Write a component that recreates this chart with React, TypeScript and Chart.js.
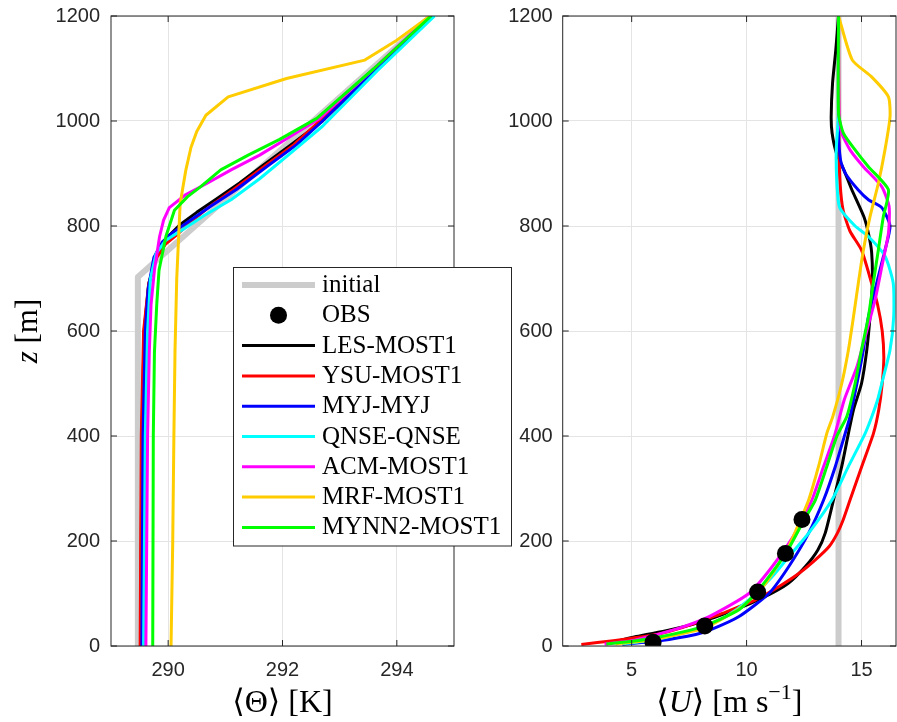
import React, { useEffect, useRef } from "react";
import { Chart, registerables } from "chart.js";
Chart.register(...registerables);

// ---------- data ----------
const Z_TICKS = [0, 200, 400, 600, 800, 1000, 1200];
const THETA_TICKS = [290, 292, 294];
const U_TICKS = [5, 10, 15];

const MODEL_NAMES = ["LES-MOST1", "YSU-MOST1", "MYJ-MYJ", "QNSE-QNSE", "ACM-MOST1", "MRF-MOST1", "MYNN2-MOST1"];

// potential temperature [K] vs height [m]: [theta, z]
const THETA_INITIAL = [[289.47, 0], [289.47, 703], [294.6, 1200]];
const THETA_LES = [[289.52, 0], [289.54, 400], [289.58, 600], [289.66, 690], [289.8, 745], [290.0, 780], [290.2, 802], [290.5, 826], [290.85, 852], [291.25, 882], [291.65, 915], [292.15, 955], [292.7, 1000], [293.65, 1100], [294.6, 1200]];
const THETA_YSU = [[289.51, 0], [289.53, 400], [289.57, 600], [289.66, 690], [289.8, 740], [289.95, 765], [290.14, 782], [290.4, 808], [290.7, 835], [291.15, 870], [291.7, 915], [292.2, 955], [292.65, 1000], [293.65, 1100], [294.62, 1200]];
const THETA_MYJ = [[289.54, 0], [289.56, 400], [289.6, 600], [289.65, 680], [289.75, 740], [289.9, 770], [290.05, 785], [290.35, 808], [290.75, 838], [291.2, 870], [291.75, 915], [292.25, 955], [292.7, 1000], [293.65, 1100], [294.63, 1200]];
const THETA_QNSE = [[289.57, 0], [289.6, 400], [289.64, 600], [289.69, 700], [289.79, 748], [289.96, 773], [290.28, 795], [290.63, 820], [291.1, 850], [291.6, 890], [292.1, 935], [292.7, 990], [293.65, 1095], [294.66, 1200]];
const THETA_ACM = [[289.61, 0], [289.64, 400], [289.67, 560], [289.7, 650], [289.76, 716], [289.85, 780], [289.92, 811], [290.02, 835], [290.31, 860], [290.69, 882], [291.1, 907], [291.6, 935], [292.1, 968], [292.65, 1005], [293.6, 1100], [294.58, 1200]];
const THETA_MRF = [[290.05, 0], [290.08, 200], [290.1, 400], [290.12, 564], [290.15, 700], [290.21, 843], [290.31, 907], [290.4, 950], [290.5, 980], [290.66, 1011], [291.05, 1046], [292.07, 1081], [293.44, 1116], [294.0, 1154], [294.58, 1200]];
const THETA_MYNN2 = [[289.73, 0], [289.74, 400], [289.76, 560], [289.8, 650], [289.84, 716], [289.96, 780], [290.11, 830], [290.34, 856], [290.57, 875], [290.92, 907], [291.4, 935], [291.95, 965], [292.6, 1005], [293.6, 1100], [294.6, 1200]];

// wind speed [m/s] vs height [m]: [U, z]
const U_INITIAL = [[14, 0], [14, 1200]];
const U_OBS = [5.93, 8.18, 10.48, 11.69, 12.41];
const Z_OBS = [7, 38, 103, 176, 241];
const U_LES = [[3.9, 4], [5.2, 18], [6.6, 30], [7.8, 43], [9.5, 69], [10.8, 94], [11.8, 119], [12.55, 151], [13.1, 183], [13.42, 215], [13.78, 278], [14.14, 342], [14.43, 405], [14.65, 450], [15.0, 500], [15.23, 564], [15.37, 627], [15.47, 691], [15.44, 750], [15.3, 786], [15.1, 818], [14.57, 870], [14.25, 905], [13.9, 940], [13.72, 977], [13.68, 1008], [13.74, 1072], [13.88, 1135], [14.0, 1200]];
const U_YSU = [[2.81, 3], [4.2, 10], [5.19, 16], [6.2, 23], [7.2, 35], [7.93, 46], [8.94, 62], [9.67, 75], [10.39, 88], [11.4, 113], [12.27, 138], [12.99, 164], [13.6, 190], [13.95, 215], [14.2, 240], [14.5, 278], [15.01, 342], [15.52, 405], [15.75, 450], [15.9, 500], [15.97, 550], [15.9, 600], [15.7, 650], [15.44, 691], [15.0, 754], [14.5, 790], [14.2, 830], [14.07, 880], [14.02, 950], [14.0, 1200]];
const U_MYJ = [[4.6, 3], [6.2, 10], [7.79, 22], [8.5, 32], [9.67, 56], [10.97, 100], [11.83, 151], [12.7, 215], [13.35, 278], [13.86, 342], [14.29, 405], [14.5, 437], [14.8, 500], [15.08, 564], [15.3, 627], [15.66, 691], [16.02, 754], [16.24, 800], [15.88, 835], [15.3, 850], [14.85, 869], [14.3, 900], [14.09, 925], [14.0, 980], [14.0, 1200]];
const U_QNSE = [[4.6, 4], [6.0, 12], [7.2, 24], [8.2, 38], [9.09, 56], [10.1, 88], [11.11, 132], [11.83, 170], [12.7, 215], [13.71, 278], [14.43, 342], [15.16, 405], [15.45, 437], [15.7, 469], [15.88, 500], [16.24, 564], [16.4, 627], [16.38, 691], [16.03, 742], [15.3, 780], [14.72, 800], [14.05, 835], [13.93, 880], [13.9, 945], [13.99, 1008], [14.0, 1200]];
const U_ACM = [[3.82, 4], [5.0, 10], [5.77, 18], [7.0, 33], [8.37, 56], [10.1, 100], [11.11, 151], [12.12, 215], [12.84, 278], [13.35, 342], [13.82, 400], [14.25, 469], [14.8, 532], [15.2, 596], [15.59, 659], [15.88, 722], [16.17, 786], [16.2, 837], [15.88, 875], [15.08, 913], [14.5, 945], [14.14, 977], [14.02, 1015], [14.0, 1200]];
const U_MRF = [[4.3, 4], [5.77, 11], [7.0, 22], [8.22, 35], [9.81, 75], [10.82, 119], [11.76, 183], [12.4, 246], [12.7, 278], [13.13, 342], [13.49, 405], [13.75, 437], [14.14, 500], [14.43, 564], [14.65, 627], [14.86, 691], [15.08, 754], [15.37, 818], [15.73, 881], [16.02, 945], [16.24, 1008], [16.17, 1046], [15.44, 1084], [14.6, 1116], [14.0, 1200]];
const U_MYNN2 = [[3.9, 4], [5.05, 9], [6.2, 17], [8.08, 37], [9.67, 69], [10.53, 107], [11.7, 176], [12.5, 240], [12.99, 278], [13.49, 342], [13.93, 400], [14.36, 437], [14.72, 500], [15.0, 564], [15.3, 627], [15.51, 691], [15.73, 754], [15.95, 818], [16.17, 869], [15.3, 913], [14.72, 945], [14.21, 977], [14.0, 1015], [14.0, 1200]];

const THETA_SERIES = [THETA_LES, THETA_YSU, THETA_MYJ, THETA_QNSE, THETA_ACM, THETA_MRF, THETA_MYNN2];
const U_SERIES = [U_LES, U_YSU, U_MYJ, U_QNSE, U_ACM, U_MRF, U_MYNN2];

// ---------- styles ----------
const W = 897;
const H = 722;
const SERIF = "'Liberation Serif', 'DejaVu Serif', serif";
const SANS = "'Liberation Sans', Arial, sans-serif";
const INK = "#262626";
const GRID = "#e4e4e4";
const GRAY = "#cccccc";
const MODEL_COLORS = ["#000000", "#ff0000", "#0000ff", "#00ffff", "#ff00ff", "#ffcc00", "#00ff00"];

type Run = { t: string; it?: boolean; sup?: boolean };

function drawRuns(ctx: CanvasRenderingContext2D, runs: Run[], x: number, y: number, size: number, rotate: boolean) {
  const fontFor = (r: Run) => `${r.it ? "italic " : ""}${r.sup ? Math.round(size * 0.7) : size}px ${SERIF}`;
  let total = 0;
  for (const r of runs) {
    ctx.font = fontFor(r);
    total += ctx.measureText(r.t).width;
  }
  ctx.save();
  ctx.translate(x, y);
  if (rotate) ctx.rotate(-Math.PI / 2);
  ctx.fillStyle = "#000";
  ctx.textBaseline = "alphabetic";
  ctx.textAlign = "left";
  let cx = -total / 2;
  for (const r of runs) {
    ctx.font = fontFor(r);
    ctx.fillText(r.t, cx, r.sup ? -size * 0.4 : 0);
    cx += ctx.measureText(r.t).width;
  }
  ctx.restore();
}

const framePlugin = {
  id: "frame",
  afterDraw(chart: any, _args: any, opts: any) {
    const { ctx, chartArea: a, scales } = chart;
    ctx.save();
    ctx.strokeStyle = INK;
    ctx.lineWidth = 1;
    ctx.strokeRect(a.left, a.top, a.right - a.left, a.bottom - a.top);
    const tl = 6;
    ctx.beginPath();
    for (const v of opts.xTicks) {
      const px = scales.x.getPixelForValue(v);
      ctx.moveTo(px, a.bottom); ctx.lineTo(px, a.bottom - tl);
      ctx.moveTo(px, a.top); ctx.lineTo(px, a.top + tl);
    }
    for (const v of opts.yTicks) {
      const py = scales.y.getPixelForValue(v);
      ctx.moveTo(a.left, py); ctx.lineTo(a.left + tl, py);
      ctx.moveTo(a.right, py); ctx.lineTo(a.right - tl, py);
    }
    ctx.stroke();
    ctx.restore();
    const cx = (a.left + a.right) / 2;
    drawRuns(ctx, opts.xTitle, cx, 712, 32, false);
    if (opts.yTitle) drawRuns(ctx, opts.yTitle, 37, (a.top + a.bottom) / 2, 31, true);
  },
};

const LEG = { x0: 233.5, y0: 267.5, x1: 511.5, y1: 546, row0: 285, gap: 30.3, lx0: 242, lx1: 315, dotX: 278.5, tx: 322, size: 25 };

const legendPlugin = {
  id: "boxLegend",
  afterDraw(chart: any, _args: any, opts: any) {
    if (!opts.show) return;
    const ctx = chart.ctx as CanvasRenderingContext2D;
    ctx.save();
    ctx.fillStyle = "#fff";
    ctx.fillRect(LEG.x0, LEG.y0, LEG.x1 - LEG.x0, LEG.y1 - LEG.y0);
    ctx.strokeStyle = INK;
    ctx.lineWidth = 1;
    ctx.strokeRect(LEG.x0, LEG.y0, LEG.x1 - LEG.x0, LEG.y1 - LEG.y0);
    chart.data.datasets.forEach((ds: any, i: number) => {
      const y = LEG.row0 + i * LEG.gap;
      if (ds.showLine === false) {
        ctx.beginPath();
        ctx.fillStyle = ds.pointBackgroundColor;
        ctx.arc(LEG.dotX, y, ds.pointRadius, 0, Math.PI * 2);
        ctx.fill();
      } else {
        ctx.beginPath();
        ctx.strokeStyle = ds.borderColor;
        ctx.lineWidth = ds.borderWidth;
        ctx.moveTo(LEG.lx0, y);
        ctx.lineTo(LEG.lx1, y);
        ctx.stroke();
      }
      ctx.fillStyle = "#000";
      ctx.font = `${LEG.size}px ${SERIF}`;
      ctx.textBaseline = "alphabetic";
      ctx.textAlign = "left";
      ctx.fillText(ds.label, LEG.tx, y + 7);
    });
    ctx.restore();
  },
};

const pts = (arr: number[][]) => arr.map(([x, z]) => ({ x, y: z }));

function axisOpts(min: number, max: number, ticks: number[], fitKey: string, fitVal: number, pad: number) {
  return {
    type: "linear",
    min,
    max,
    afterBuildTicks: (s: any) => { s.ticks = ticks.map((v) => ({ value: v })); },
    afterFit: (s: any) => {
      s[fitKey] = fitVal;
      s.paddingTop = 0;
      s.paddingBottom = 0;
      s.paddingLeft = 0;
      s.paddingRight = 0;
    },
    grid: { color: GRID, lineWidth: 1, drawTicks: false },
    border: { display: false },
    ticks: {
      color: INK,
      font: { family: SANS, size: 20 },
      padding: pad,
      autoSkip: false,
      maxRotation: 0,
      callback: (v: any) => String(v),
    },
  };
}

function lineSet(label: string, data: number[][], color: string, width: number, order: number, tension: number) {
  return {
    label,
    data: pts(data),
    showLine: true,
    borderColor: color,
    backgroundColor: color,
    borderWidth: width,
    pointRadius: 0,
    tension,
    borderJoinStyle: "round",
    order,
  };
}

function obsSet(withData: boolean) {
  return {
    label: "OBS",
    data: withData ? U_OBS.map((u, i) => ({ x: u, y: Z_OBS[i] })) : [],
    showLine: false,
    pointRadius: 8.5,
    pointBackgroundColor: "#000",
    pointBorderColor: "#000",
    pointBorderWidth: 0,
    order: 0,
  };
}

function leftConfig(): any {
  return {
    type: "scatter",
    data: {
      datasets: [
        lineSet("initial", THETA_INITIAL, GRAY, 6, 20, 0),
        obsSet(false),
        ...MODEL_NAMES.map((n, i) => lineSet(n, THETA_SERIES[i], MODEL_COLORS[i], 3, 10 - i, 0)),
      ],
    },
    options: {
      responsive: false,
      animation: false,
      devicePixelRatio: 1,
      events: [],
      layout: { autoPadding: false, padding: { left: 0, right: W - 454, top: 16, bottom: 0 } },
      scales: {
        x: axisOpts(289, 295, THETA_TICKS, "height", 76, 12),
        y: axisOpts(0, 1200, Z_TICKS, "width", 111, 11),
      },
      plugins: {
        legend: { display: false },
        tooltip: { enabled: false },
        frame: { xTicks: THETA_TICKS, yTicks: Z_TICKS, xTitle: [{ t: "⟨Θ⟩ [K]" }], yTitle: [{ t: "z", it: true }, { t: " [m]" }] },
        boxLegend: { show: true },
      },
    },
    plugins: [framePlugin, legendPlugin],
  };
}

function rightConfig(): any {
  return {
    type: "scatter",
    data: {
      datasets: [
        lineSet("initial", U_INITIAL, GRAY, 6, 20, 0),
        obsSet(true),
        ...MODEL_NAMES.map((n, i) => lineSet(n, U_SERIES[i], MODEL_COLORS[i], 3, 10 - i, 0.2)),
      ],
    },
    options: {
      responsive: false,
      animation: false,
      devicePixelRatio: 1,
      events: [],
      layout: { autoPadding: false, padding: { left: 500, right: 1, top: 16, bottom: 0 } },
      scales: {
        x: axisOpts(2, 16.5, U_TICKS, "height", 76, 12),
        y: axisOpts(0, 1200, Z_TICKS, "width", 62.7, 10),
      },
      plugins: {
        legend: { display: false },
        tooltip: { enabled: false },
        frame: {
          xTicks: U_TICKS,
          yTicks: Z_TICKS,
          xTitle: [{ t: "⟨" }, { t: "U", it: true }, { t: "⟩ [m s" }, { t: "−1", sup: true }, { t: "]" }],
        },
        boxLegend: { show: false },
      },
    },
    plugins: [framePlugin, legendPlugin],
  };
}

export default function App() {
  const leftRef = useRef<HTMLCanvasElement>(null);
  const rightRef = useRef<HTMLCanvasElement>(null);
  useEffect(() => {
    const right = new Chart(rightRef.current as HTMLCanvasElement, rightConfig());
    const left = new Chart(leftRef.current as HTMLCanvasElement, leftConfig());
    return () => {
      left.destroy();
      right.destroy();
    };
  }, []);
  return (
    <div style={{ position: "absolute", left: 0, top: 0, width: W, height: H, background: "#fff", overflow: "hidden" }}>
      <canvas ref={rightRef} width={W} height={H} style={{ position: "absolute", left: 0, top: 0 }} />
      <canvas ref={leftRef} width={W} height={H} style={{ position: "absolute", left: 0, top: 0 }} />
    </div>
  );
}
